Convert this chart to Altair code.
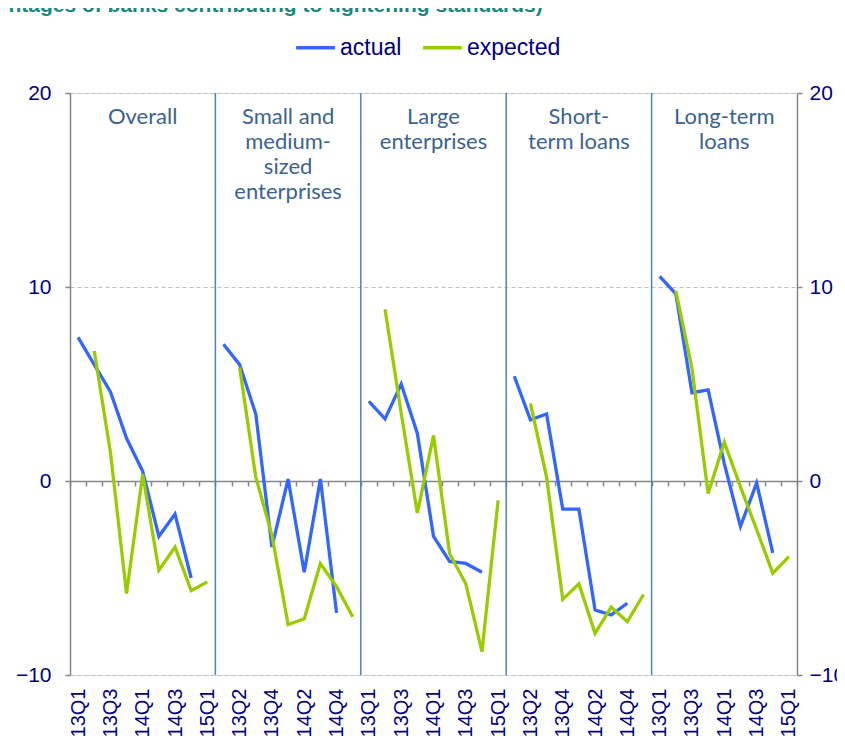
import altair as alt
import pandas as pd

quarters = ['13Q1', '13Q2', '13Q3', '13Q4', '14Q1', '14Q2', '14Q3', '14Q4', '15Q1']
panels = ['Overall', 'Small and\nmedium-\nsized\nenterprises', 'Large\nenterprises',
          'Short-\nterm loans', 'Long-term\nloans']

# actual: 13Q1 .. 14Q4
actual = [
    [7.4, 6.0, 4.6, 2.2, 0.5, -2.85, -1.7, -5.0],
    [7.05, 6.0, 3.45, -3.4, 0.1, -4.7, 0.1, -6.8],
    [4.1, 3.2, 5.0, 2.45, -2.85, -4.15, -4.25, -4.7],
    [5.4, 3.15, 3.45, -1.45, -1.45, -6.65, -6.9, -6.3],
    [10.55, 9.65, 4.55, 4.7, 0.9, -2.35, -0.1, -3.7],
]
# expected: 13Q2 .. 15Q1
expected = [
    [6.7, 1.5, -5.8, 0.35, -4.6, -3.4, -5.65, -5.2],
    [5.85, 0.2, -2.8, -7.4, -7.1, -4.25, -5.45, -7.0],
    [8.85, 3.5, -1.65, 2.35, -3.75, -5.3, -8.8, -1.0],
    [4.0, 0.2, -6.1, -5.3, -7.85, -6.5, -7.25, -5.85],
    [9.8, 5.8, -0.65, 2.0, -0.3, -2.5, -4.75, -3.9],
]

nq = len(quarters)
n_total = nq * len(panels)

rows = []
for p in range(len(panels)):
    for i, v in enumerate(actual[p]):
        rows.append({'panel': p, 'series': 'actual', 'pos': p * nq + i + 0.5, 'value': v})
    for i, v in enumerate(expected[p]):
        rows.append({'panel': p, 'series': 'expected', 'pos': p * nq + i + 1.5, 'value': v})
df = pd.DataFrame(rows)

sep_df = pd.DataFrame({'sep': [p * nq for p in range(1, len(panels))]})
title_df = pd.DataFrame({'tx': [p * nq + nq / 2 for p in range(len(panels))], 'label': panels})

label_values = [i + 0.5 for i in range(0, n_total, 2)]
q_expr = '[' + ','.join("'%s'" % q for q in quarters) + ']'
label_expr = q_expr + '[floor(datum.value) % 9]'

xscale = alt.Scale(domain=[0, n_total], nice=False, zero=False)
yscale = alt.Scale(domain=[-10, 20], nice=False, zero=False)

NAVY = '#000080'
AXC = '#868686'
NFONT = 'Liberation Sans'

lines = alt.Chart(df).mark_line(strokeWidth=3.3).encode(
    x=alt.X('pos:Q', scale=xscale,
            axis=alt.Axis(orient='bottom', values=label_values, labelExpr=label_expr,
                          labelAngle=270, ticks=False, tickSize=0, domain=False, grid=False,
                          labelPadding=13, labelFontSize=20, labelColor=NAVY, labelFont=NFONT,
                          title=None, labelOverlap=False)),
    y=alt.Y('value:Q', scale=yscale,
            axis=alt.Axis(orient='left', values=[-10, 0, 10, 20], grid=True, gridDash=[4, 3],
                          gridColor='#BFBFBF', gridWidth=1.2, domainColor=AXC, domainWidth=1.5,
                          tickColor=AXC, tickSize=5, tickWidth=1.5, labelPadding=14,
                          labelFontSize=21, labelColor=NAVY, labelFont=NFONT, title=None)),
    color=alt.Color('series:N',
                    scale=alt.Scale(domain=['actual', 'expected'], range=['#3366FF', '#99CC00']),
                    legend=alt.Legend(orient='none', legendX=224, legendY=-67, direction='horizontal',
                                      columns=2, title=None, symbolType='stroke', symbolSize=1500,
                                      symbolStrokeWidth=3.3, labelFontSize=23, labelColor=NAVY,
                                      labelFont=NFONT, columnPadding=14, labelOffset=3)),
    detail='panel:N',
)

seps = alt.Chart(sep_df).mark_rule(color='#4F81BD', strokeWidth=1.5).encode(
    x=alt.X('sep:Q', scale=xscale,
            axis=alt.Axis(orient='bottom', values=list(range(0, n_total + 1)), offset=-194,
                          labels=False, grid=False, domainColor=AXC, domainWidth=1.5,
                          tickColor=AXC, tickSize=5, tickWidth=1.5, title=None)),
    y=alt.YDatum(20, scale=yscale,
                 axis=alt.Axis(orient='right', values=[-10, 0, 10, 20], grid=False,
                               domainColor=AXC, domainWidth=1.5, tickColor=AXC, tickSize=5,
                               tickWidth=1.5, labelPadding=7, labelFontSize=21, labelColor=NAVY,
                               labelFont=NFONT, title=None)),
    y2=alt.Y2Datum(-10),
)

titles = alt.Chart(title_df).mark_text(
    font='Lato', fontSize=22, color='#3A6391', baseline='top', align='center',
    lineBreak='\n', lineHeight=25, dy=14,
).encode(
    x=alt.X('tx:Q', scale=xscale, axis=None),
    y=alt.YDatum(20, scale=yscale, axis=None),
    text='label:N',
)

chart = alt.layer(seps, lines, titles).resolve_axis(x='independent', y='independent').properties(
    width=727, height=582,
    autosize=alt.AutoSizeParams(type='none'),
    padding={'left': 62, 'top': 85, 'right': 40, 'bottom': 61},
    title=alt.Title('(percentages of banks contributing to tightening standards)', anchor='start',
                    dx=-70, fontSize=21, fontWeight='bold', color='#17877F', font='Liberation Sans',
                    offset=10),
).configure_view(stroke=None).configure(background='white')

chart.save('out.html', embed_options={'renderer': 'svg', 'actions': False})
